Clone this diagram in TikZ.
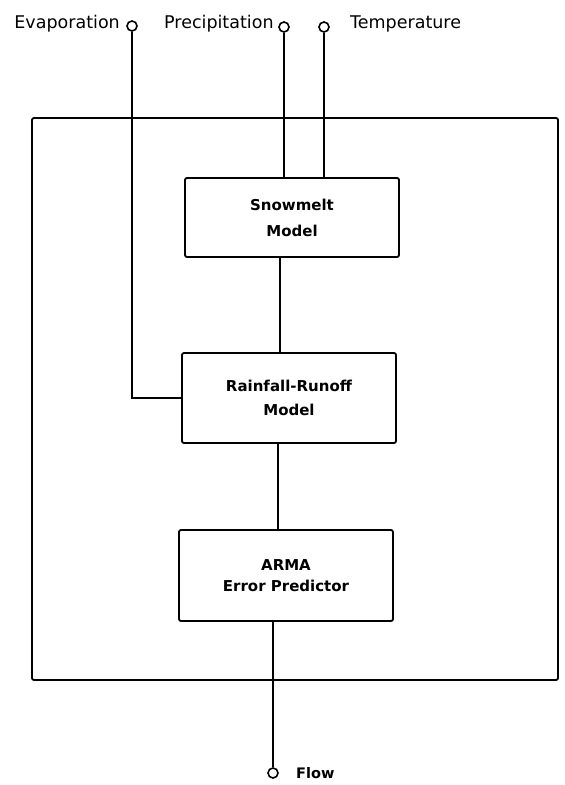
\documentclass[tikz,border=0pt]{standalone}
\usepackage{fontspec}
\setmainfont{DejaVu Sans}
\begin{document}
\begin{tikzpicture}[x=1pt,y=-1pt,
  wire/.style={line width=1.8pt},
  blockbox/.style={draw,line width=1.8pt,rounded corners=2pt,minimum width=214pt,inner sep=0pt,align=center,font=\bfseries\fontsize{15}{24}\selectfont},
  port/.style={circle,draw,line width=1.6pt,minimum size=10pt,inner sep=0pt},
  toplabel/.style={inner sep=0pt,font=\fontsize{17.5}{19}\selectfont}]
\useasboundingbox (0,0) rectangle (565,785);
% outer frame
\node[draw,line width=1.8pt,rounded corners=2pt,minimum width=526pt,minimum height=562pt,inner sep=0pt] (frame) at (295,399) {};
% blocks
\node[blockbox,minimum height=79pt,font=\bfseries\fontsize{15}{26}\selectfont] (snow) at (292,217.5) {Snowmelt\\Model};
\node[blockbox,minimum height=90pt] (rain) at (289,398) {Rainfall-Runoff\\Model};
\node[blockbox,minimum height=91pt,font=\bfseries\fontsize{15}{21}\selectfont] (arma) at (286,575.5) {ARMA\\Error Predictor};
% ports
\node[port] (ev) at (132,26) {};
\node[port] (pr) at (284,27) {};
\node[port] (tp) at (324,27) {};
\node[port] (fl) at (273,773) {};
% labels
\node[toplabel,anchor=east] (evl) at (120,24) {Evaporation};
\node[toplabel,anchor=west] (prl) at (164,24) {Precipitation};
\node[toplabel,anchor=west] (tpl) at (350,24) {Temperature};
\node[inner sep=0pt,anchor=west,font=\bfseries\fontsize{14.5}{16}\selectfont] (fll) at (296,773) {Flow};
% helper coordinates
\coordinate (c1) at (280,0);
\coordinate (c2) at (278,0);
% connectors
\draw[wire] (ev.south) |- (rain.west);
\draw[wire] (pr.south) -- (pr.south |- snow.north);
\draw[wire] (tp.south) -- (tp.south |- snow.north);
\draw[wire] (c1 |- snow.south) -- (c1 |- rain.north);
\draw[wire] (c2 |- rain.south) -- (c2 |- arma.north);
\draw[wire] (fl.north |- arma.south) -- (fl.north);
\end{tikzpicture}
\end{document}
